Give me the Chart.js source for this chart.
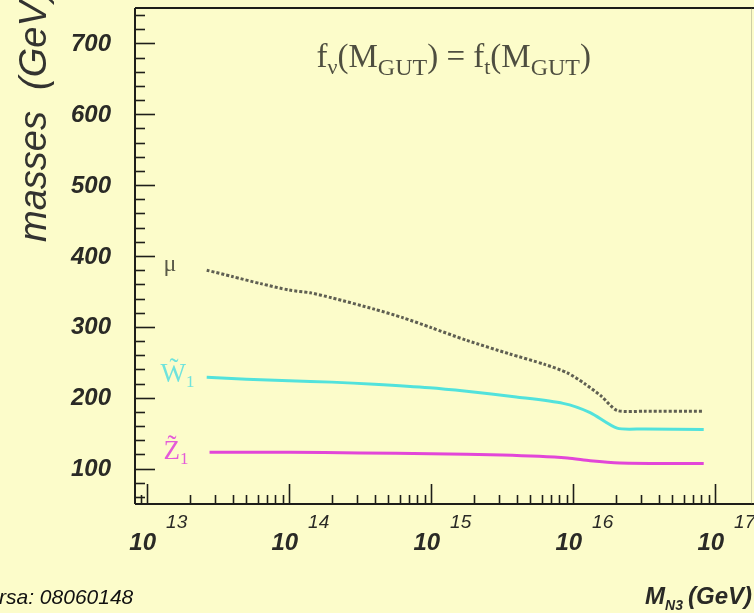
<!DOCTYPE html>
<html>
<head>
<meta charset="utf-8">
<script src="https://cdn.jsdelivr.net/npm/chart.js@4/dist/chart.umd.min.js"></script>
<style>
  html, body { margin: 0; padding: 0; background: #FCFCCA; }
  #wrap { width: 754px; height: 613px; position: relative; overflow: hidden; }
  canvas { display: block; }
</style>
</head>
<body>
<div id="wrap"><canvas id="c" width="754" height="613"></canvas></div>
<script>
// Heavy neutrino mass M_N3 (GeV), given as log10 exponents, and the masses (GeV)
const muLogM   = [13.42, 13.6, 13.8, 14.0, 14.15, 14.3, 14.6, 14.8, 15.0, 15.25, 15.55, 15.8, 15.96, 16.08, 16.2, 16.31, 16.5, 16.92];
const muMass   = [380,   371,  361,  352,  348,   341,  325,  313,  299,  281,   262,   247,  235,   220,   202,   182,   181,  181];

const w1LogM   = [13.42, 13.7, 14.0, 14.3, 14.6, 14.99, 15.25, 15.6, 15.93, 16.12, 16.31, 16.5, 16.92];
const w1Mass   = [229,   226,  224,  222,  219,  214,   209,   201,  192,   179,   157,   156,  155];

const z1LogM   = [13.44, 14.0, 14.5, 15.0, 15.5, 15.96, 16.12, 16.33, 16.92];
const z1Mass   = [123,   123,  122,  121,  119,  115,   111,   108,   107];

// Axis settings and tick labels
const xLogMin = 12.915, xLogMax = 17.26;
const xDecades = [13, 14, 15, 16, 17];
const yMin = 50, yMax = 750;
const yLabels = [100, 200, 300, 400, 500, 600, 700];

const toPoints = (logs, vals) => logs.map((l, i) => ({ x: Math.pow(10, l), y: vals[i] }));

const BG = '#FCFCCA';
const INK = '#1e1e1a';

function drawRuns(ctx, x, y, runs, align) {
  let total = 0;
  runs.forEach(r => { ctx.font = r.font; r.w = ctx.measureText(r.t).width; total += r.w + (r.gap || 0); });
  let cx = align === 'right' ? x - total : align === 'center' ? x - total / 2 : x;
  ctx.textAlign = 'left';
  ctx.textBaseline = 'alphabetic';
  runs.forEach(r => {
    ctx.font = r.font;
    ctx.fillStyle = r.color;
    ctx.fillText(r.t, cx, y + (r.dy || 0));
    cx += r.w + (r.gap || 0);
  });
}

const decorations = {
  id: 'decorations',
  beforeDraw(chart) {
    const ctx = chart.ctx;
    ctx.save();
    ctx.fillStyle = BG;
    ctx.fillRect(0, 0, chart.width, chart.height);
    ctx.restore();
  },
  afterDraw(chart) {
    const ctx = chart.ctx;
    const xs = chart.scales.x, ys = chart.scales.y;
    const a = chart.chartArea;
    ctx.save();

    // frame
    ctx.strokeStyle = INK;
    ctx.lineWidth = 2;
    ctx.beginPath();
    ctx.moveTo(a.left, a.top); ctx.lineTo(a.right + 4, a.top);
    ctx.moveTo(a.left, a.top); ctx.lineTo(a.left, a.bottom);
    ctx.moveTo(a.left, a.bottom); ctx.lineTo(a.right + 4, a.bottom);
    ctx.stroke();
    ctx.strokeStyle = 'rgba(120,120,100,0.35)';
    ctx.lineWidth = 1;
    ctx.beginPath();
    ctx.moveTo(a.right - 0.5, a.top); ctx.lineTo(a.right - 0.5, a.bottom);
    ctx.stroke();

    // y ticks (inside, every 20, long at hundreds)
    ctx.strokeStyle = INK;
    ctx.lineWidth = 1.6;
    for (let v = 60; v < yMax; v += 20) {
      const py = Math.round(ys.getPixelForValue(v)) + 0.5;
      const len = v % 100 === 0 ? 20 : 10;
      ctx.beginPath();
      ctx.moveTo(a.left, py); ctx.lineTo(a.left + len, py);
      ctx.stroke();
    }
    // x ticks (inside, log minor ticks)
    for (let d = 12; d <= 17; d++) {
      for (let m = 1; m <= 9; m++) {
        const l = d + Math.log10(m);
        if (l < xLogMin || l > xLogMax) continue;
        const px = Math.round(xs.getPixelForValue(Math.pow(10, l))) + 0.5;
        const len = m === 1 ? 20 : 9;
        ctx.beginPath();
        ctx.moveTo(px, a.bottom); ctx.lineTo(px, a.bottom - len);
        ctx.stroke();
      }
    }

    const sans = '"Liberation Sans", Arial, sans-serif';
    const serif = '"Liberation Serif", "Times New Roman", serif';

    // y tick labels
    ctx.fillStyle = '#2a2a26';
    ctx.font = 'italic bold 24px ' + sans;
    ctx.textAlign = 'right';
    ctx.textBaseline = 'middle';
    yLabels.forEach(v => ctx.fillText(String(v), 111, ys.getPixelForValue(v) + 1));

    // x tick labels 10^n
    xDecades.forEach(d => {
      const px = xs.getPixelForValue(Math.pow(10, d));
      ctx.fillStyle = '#2a2a26';
      ctx.font = 'italic bold 24px ' + sans;
      ctx.textAlign = 'right';
      ctx.textBaseline = 'alphabetic';
      ctx.fillText('10', px + 9, 550);
      ctx.font = 'italic 19px ' + sans;
      ctx.textAlign = 'left';
      ctx.fillText(String(d), px + 19, 528);
    });

    // y axis title
    ctx.save();
    ctx.translate(46, 242);
    ctx.rotate(-Math.PI / 2);
    ctx.fillStyle = '#333330';
    ctx.font = 'italic 38px ' + sans;
    ctx.textAlign = 'left';
    ctx.textBaseline = 'alphabetic';
    ctx.fillText('masses  (GeV)', 0, 0);
    ctx.restore();

    // x axis title
    drawRuns(ctx, 752, 604, [
      { t: 'M', font: 'italic bold 24px ' + sans, color: '#2a2a26' },
      { t: 'N3', font: 'italic bold 14px ' + sans, color: '#2a2a26', dy: 6, gap: 5 },
      { t: '(GeV)', font: 'italic bold 24px ' + sans, color: '#2a2a26' }
    ], 'right');

    // footer
    ctx.fillStyle = '#111';
    ctx.font = 'italic 21px ' + sans;
    ctx.textAlign = 'left';
    ctx.textBaseline = 'alphabetic';
    ctx.fillText('rsa: 08060148', -1, 604);

    // formula
    const fc = '#4e4e40';
    drawRuns(ctx, xs.getPixelForValue(Math.pow(10, 15.16)), ys.getPixelForValue(667), [
      { t: 'f', font: '33px ' + serif, color: fc },
      { t: 'ν', font: '22px ' + serif, color: fc, dy: 7 },
      { t: '(M', font: '33px ' + serif, color: fc },
      { t: 'GUT', font: '24px ' + serif, color: fc, dy: 8 },
      { t: ') = f', font: '33px ' + serif, color: fc },
      { t: 't', font: '22px ' + serif, color: fc, dy: 7 },
      { t: '(M', font: '33px ' + serif, color: fc },
      { t: 'GUT', font: '24px ' + serif, color: fc, dy: 8 },
      { t: ')', font: '33px ' + serif, color: fc }
    ], 'center');

    // curve labels
    const lx = xs.getPixelForValue(Math.pow(10, 13.13));
    drawRuns(ctx, lx - 2, ys.getPixelForValue(379), [
      { t: 'μ', font: '24px ' + serif, color: '#5a5a48' }
    ], 'left');
    drawRuns(ctx, lx - 5, ys.getPixelForValue(222), [
      { t: 'W̃', font: '27px ' + serif, color: '#6fe3dc' },
      { t: '1', font: '17px ' + serif, color: '#6fe3dc', dy: 5 }
    ], 'left');
    drawRuns(ctx, lx - 2, ys.getPixelForValue(113), [
      { t: 'Z̃', font: '27px ' + serif, color: '#e45ad8' },
      { t: '1', font: '17px ' + serif, color: '#e45ad8', dy: 5 }
    ], 'left');

    ctx.restore();
  }
};

new Chart(document.getElementById('c'), {
  type: 'line',
  data: {
    datasets: [
      { label: 'μ', data: toPoints(muLogM, muMass), borderColor: '#5f5f52', borderWidth: 3,
        borderDash: [3, 2], pointRadius: 0, tension: 0.25, fill: false },
      { label: 'W̃1', data: toPoints(w1LogM, w1Mass), borderColor: '#52e2dc', borderWidth: 3,
        pointRadius: 0, tension: 0.25, fill: false },
      { label: 'Z̃1', data: toPoints(z1LogM, z1Mass), borderColor: '#e246d8', borderWidth: 3,
        pointRadius: 0, tension: 0.25, fill: false }
    ]
  },
  options: {
    responsive: false,
    animation: false,
    devicePixelRatio: 1,
    layout: { padding: { left: 135, right: 2, top: 8, bottom: 109 } },
    plugins: { legend: { display: false }, tooltip: { enabled: false } },
    scales: {
      x: { type: 'logarithmic', min: Math.pow(10, xLogMin), max: Math.pow(10, xLogMax), display: false },
      y: { type: 'linear', min: yMin, max: yMax, display: false }
    }
  },
  plugins: [decorations]
});
</script>
</body>
</html>
